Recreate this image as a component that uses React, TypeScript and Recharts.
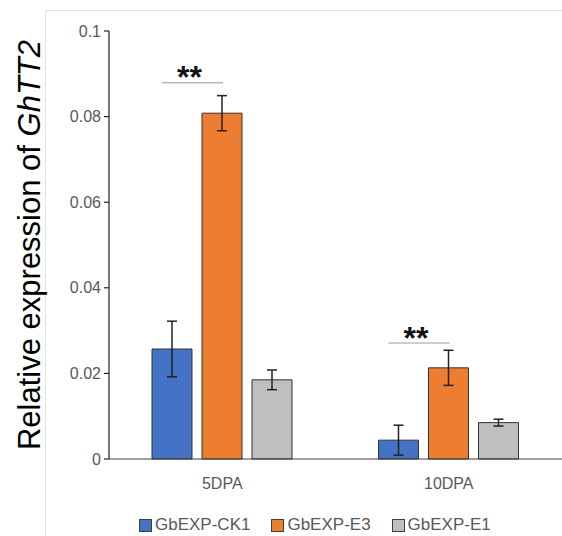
import React from 'react';
import { BarChart, Bar, XAxis, YAxis, ErrorBar, Legend, LabelList } from 'recharts';

const categories = ['5DPA', '10DPA'];
const ck1 = [0.0257, 0.0044];
const ck1Err = [0.0065, 0.0035];
const e3 = [0.0808, 0.0213];
const e3Err = [0.0041, 0.0041];
const e1 = [0.0185, 0.0085];
const e1Err = [0.0023, 0.0008];
const sigLevel = [0.0879, 0.0271];
const sigText = ['**', '**'];
const yTicks = [0, 0.02, 0.04, 0.06, 0.08, 0.1];

const seriesNames = ['GbEXP-CK1', 'GbEXP-E3', 'GbEXP-E1'];
const seriesColors = ['#4472C4', '#ED7D31', '#BFBFBF'];

const data = categories.map((c, i) => ({
  cat: c,
  ck1: ck1[i],
  ck1Err: ck1Err[i],
  e3: e3[i],
  e3Err: e3Err[i],
  e1: e1[i],
  e1Err: e1Err[i],
  sig: sigLevel[i],
  sigText: sigText[i],
}));

const FONT = '"Liberation Sans", Arial, sans-serif';

const SigMark = (props: any) => {
  const { x, y, width, height, index } = props;
  const v = e3[index];
  const bottom = y + height;
  const ppu = height / v;
  const lineY = bottom - sigLevel[index] * ppu;
  const orangeCenter = x + width / 2;
  const blueCenter = orangeCenter - width - 10;
  const x1 = blueCenter - 10;
  const x2 = orangeCenter + 1;
  return (
    <g>
      <line x1={x1} x2={x2} y1={lineY} y2={lineY} stroke="#9a9a9a" strokeWidth={1} />
      <text
        x={(x1 + x2) / 2 - 3}
        y={lineY + 5.5}
        textAnchor="middle"
        fontSize={32}
        fontWeight="bold"
        fontFamily={FONT}
        fill="#111"
      >
        {sigText[index]}
      </text>
    </g>
  );
};

const YLabel = (props: any) => {
  const vb = props.viewBox || { x: 49, y: 31, width: 60, height: 428 };
  const cx = vb.x - 9;
  const cy = vb.y + vb.height / 2;
  return (
    <text
      x={cx}
      y={cy}
      transform={`rotate(-90, ${cx}, ${cy})`}
      textAnchor="middle"
      fontSize={31}
      fontFamily={FONT}
      fill="#000"
    >
      <tspan>Relative expression of </tspan>
      <tspan fontStyle="italic">GhTT2</tspan>
    </text>
  );
};

const LegendContent = () => (
  <div
    style={{
      width: 562,
      height: 47,
      boxSizing: 'border-box',
      paddingTop: 25,
      paddingLeft: 139,
      display: 'flex',
      flexDirection: 'row',
      fontFamily: FONT,
      fontSize: 17,
      color: '#595959',
      lineHeight: '18px',
    }}
  >
    {seriesNames.map((n, i) => (
      <div key={n} style={{ display: 'flex', alignItems: 'center', marginRight: i < 2 ? 21 : 0 }}>
        <span
          style={{
            display: 'inline-block',
            width: 11,
            height: 11,
            background: seriesColors[i],
            border: '1px solid #404040',
            marginRight: 3,
          }}
        />
        <span>{n}</span>
      </div>
    ))}
  </div>
);

export default function App() {
  return (
    <div style={{ position: 'absolute', left: 0, top: 0, width: 562, height: 536, background: '#fff' }}>
      <div
        style={{
          position: 'absolute',
          left: 45,
          top: 10,
          width: 517,
          height: 526,
          borderTop: '1px solid #e2e2e2',
          borderLeft: '1px solid #e2e2e2',
        }}
      />
      <div style={{ position: 'absolute', left: 0, top: 0 }}>
        <BarChart
          width={562}
          height={536}
          data={data}
          margin={{ top: 31, right: 0, left: 49, bottom: 0 }}
          barSize={40}
          barGap={10}
        >
          <XAxis
            dataKey="cat"
            height={30}
            tickLine={false}
            tickSize={0}
            tickMargin={19}
            axisLine={{ stroke: '#404040', strokeWidth: 1 }}
            tick={{ fill: '#595959', fontSize: 16, fontFamily: FONT }}
          />
          <YAxis
            width={60}
            domain={[0, 0.1]}
            ticks={yTicks}
            interval={0}
            tickSize={5}
            tickMargin={3}
            axisLine={{ stroke: '#222', strokeWidth: 1.2 }}
            tickLine={{ stroke: '#222', strokeWidth: 1.2 }}
            tick={{ fill: '#595959', fontSize: 16, fontFamily: FONT }}
            label={<YLabel />}
          />
          <Legend verticalAlign="bottom" content={<LegendContent />} wrapperStyle={{ left: 0, bottom: 0, width: 562, height: 47 }} />
          <Bar dataKey="ck1" name={seriesNames[0]} fill={seriesColors[0]} stroke="#333" strokeWidth={1} isAnimationActive={false}>
            <ErrorBar dataKey="ck1Err" stroke="#222" strokeWidth={1.5} width={5} isAnimationActive={false} />
          </Bar>
          <Bar dataKey="e3" name={seriesNames[1]} fill={seriesColors[1]} stroke="#333" strokeWidth={1} isAnimationActive={false}>
            <ErrorBar dataKey="e3Err" stroke="#222" strokeWidth={1.5} width={5} isAnimationActive={false} />
            <LabelList dataKey="sig" content={<SigMark />} />
          </Bar>
          <Bar dataKey="e1" name={seriesNames[2]} fill={seriesColors[2]} stroke="#333" strokeWidth={1} isAnimationActive={false}>
            <ErrorBar dataKey="e1Err" stroke="#222" strokeWidth={1.5} width={5} isAnimationActive={false} />
          </Bar>
        </BarChart>
      </div>
    </div>
  );
}
